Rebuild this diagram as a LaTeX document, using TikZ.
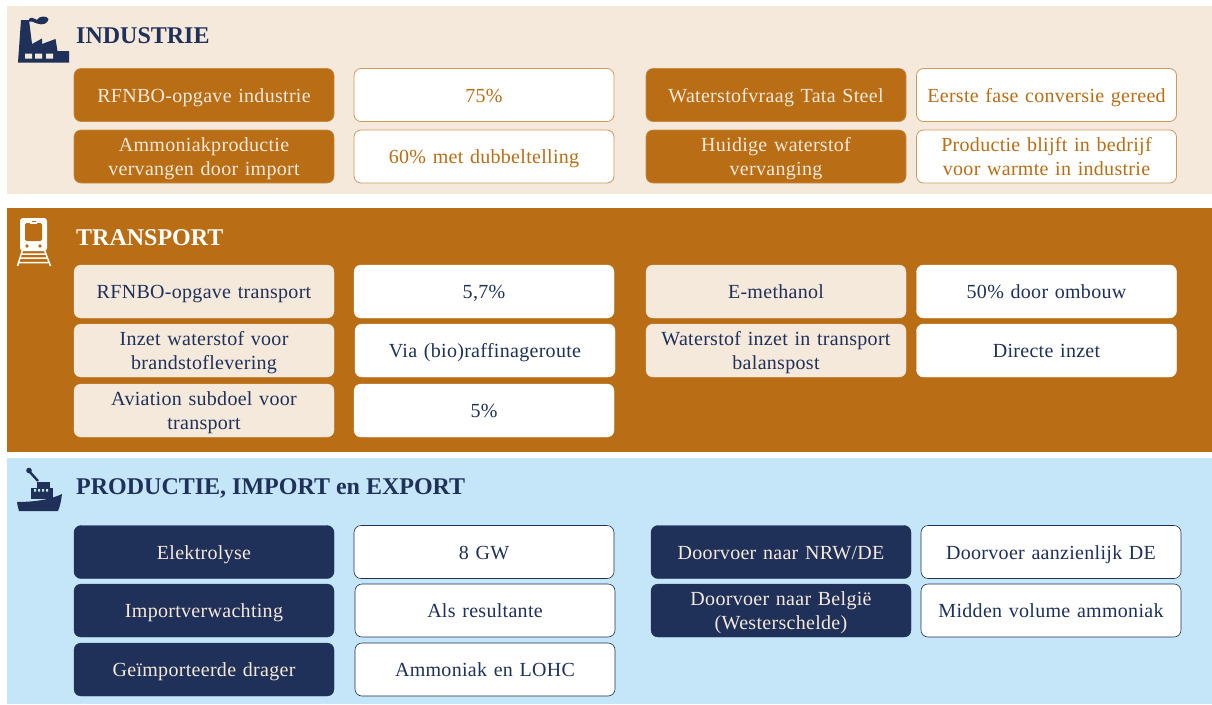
\documentclass[tikz,border=0pt]{standalone}
\usepackage{fontspec}
\setmainfont{Liberation Serif}[LetterSpace=1.5]
\newfontfamily\headfont{Liberation Serif}
\definecolor{cream}{HTML}{F5E9DB}
\definecolor{ochre}{HTML}{B96D15}
\definecolor{navy}{HTML}{1F3059}
\definecolor{sky}{HTML}{C5E6F8}
\tikzset{
 x=1pt,y=-1pt,
 cellbox/.style={rounded corners=7pt,minimum width=260pt,minimum height=53pt,align=center,inner sep=0pt,font=\fontsize{20}{24}\selectfont,text width=256pt,execute at begin node={\rule[-7.2pt]{0pt}{29pt}},execute at end node=\strut},
 indlab/.style={cellbox,fill=ochre,draw=ochre!80!white,line width=.6pt,text=cream},
 indval/.style={cellbox,fill=white,draw=ochre!70!white,line width=.8pt,text=ochre},
 trlab/.style={cellbox,fill=cream,draw=cream,text=navy},
 trval/.style={cellbox,fill=white,draw=white,text=navy},
 prlab/.style={cellbox,fill=navy,draw=navy,text=cream},
 prval/.style={cellbox,fill=white,draw=navy,line width=.6pt,text=navy},
 head/.style={anchor=west,inner sep=0pt,font=\fontsize{24}{30}\selectfont\headfont\bfseries},
}
\begin{document}
\begin{tikzpicture}
\useasboundingbox (0,0) rectangle (1212,704);
\fill[cream] (7,6) rectangle (1212,194);
\fill[ochre] (7,208) rectangle (1212,452);
\fill[sky] (7,458) rectangle (1212,704);

\node[head,text=navy] (h1) at (76,35.5) {INDUSTRIE};
\node[head,text=white] (h2) at (76,238) {TRANSPORT};
\node[head,text=navy] (h3) at (76,488.5) {PRODUCTIE, IMPORT en EXPORT};

% Industrie
\node[indlab] (a1) at (204,95) {RFNBO-opgave industrie};
\node[indval] (a2) at (484,95) {75\%};
\node[indlab] (a3) at (776,95) {Waterstofvraag Tata Steel};
\node[indval] (a4) at (1046.5,95) {Eerste fase conversie gereed};
\node[indlab] (a5) at (204,156.5) {Ammoniakproductie\\vervangen door import};
\node[indval] (a6) at (484,156.5) {60\% met dubbeltelling};
\node[indlab] (a7) at (776,156.5) {Huidige waterstof\\vervanging};
\node[indval] (a8) at (1046.5,156.5) {Productie blijft in bedrijf\\voor warmte in industrie};

% Transport
\node[trlab] (b1) at (204,291.5) {RFNBO-opgave transport};
\node[trval] (b2) at (484,291.5) {5,7\%};
\node[trlab] (b3) at (776,291.5) {E-methanol};
\node[trval] (b4) at (1046.5,291.5) {50\% door ombouw};
\node[trlab] (b5) at (204,350.5) {Inzet waterstof voor\\brandstoflevering};
\node[trval] (b6) at (485,350.5) {Via (bio)raffinageroute};
\node[trlab] (b7) at (776,350.5) {Waterstof inzet in transport\\balanspost};
\node[trval] (b8) at (1046.5,350.5) {Directe inzet};
\node[trlab] (b9) at (204,410.5) {Aviation subdoel voor\\transport};
\node[trval] (b10) at (484,410.5) {5\%};

% Productie
\node[prlab] (c1) at (204,552) {Elektrolyse};
\node[prval] (c2) at (484,552) {8 GW};
\node[prlab] (c3) at (781,552) {Doorvoer naar NRW/DE};
\node[prval] (c4) at (1051,552) {Doorvoer aanzienlijk DE};
\node[prlab] (c5) at (204,610.5) {Importverwachting};
\node[prval] (c6) at (485,610.5) {Als resultante};
\node[prlab] (c7) at (781,610.5) {Doorvoer naar België\\(Westerschelde)};
\node[prval] (c8) at (1051,610.5) {Midden volume ammoniak};
\node[prlab] (c9) at (204,669.5) {Geïmporteerde drager};
\node[prval] (c10) at (485,669.5) {Ammoniak en LOHC};

% factory icon
\fill[navy] (18,62.5) -- (21,20) -- (29,20) -- (32,44) -- (42,38.5) -- (42,44) -- (55.5,39) -- (57.5,51) -- (69,51) -- (69,62.5) -- cycle;
\fill[cream] (25,53.5) rectangle (32,58.5) (35,53.5) rectangle (42,58.5) (46,53.5) rectangle (53,58.5);
\fill[navy] (29,19) .. controls (31,16.5) and (34,18.5) .. (37,20) .. controls (39,15.5) and (47,15.5) .. (48.5,19) .. controls (48,24) and (42,25.5) .. (37,23.5) .. controls (34,22) and (31,21) .. (29,21.5) -- cycle;

% train icon
\fill[white,rounded corners=3pt] (20,218) rectangle (47,251);
\fill[ochre,rounded corners=2pt] (25,223) rectangle (42,241);
\fill[white] (30,220) rectangle (37,224);
\fill[ochre] (31.5,221) rectangle (35.5,222);
\fill[ochre] (27,246) circle (1.9pt) (40,246) circle (1.9pt);
\draw[white,line width=1.5pt] (22.5,250) -- (17.5,266) (44.5,250) -- (50.5,266)
  (22,254) -- (45,254) (20.5,258) -- (46.5,258) (19,262.5) -- (48,262.5);

% ship icon
\fill[navy] (17,502) .. controls (32,502) and (50,500) .. (62,494) .. controls (61,502) and (60,506) .. (58,511) -- (19,511) .. controls (18,508) and (17.5,505) .. (17,502) -- cycle;
\fill[navy] (31,488) rectangle (53,499);
\fill[navy] (37,482) rectangle (50,488);
\fill[sky] (34,489) rectangle (36,491.5) (38,489) rectangle (40,491.5) (42,489) rectangle (44,491.5) (46,489) rectangle (48,491.5);
\draw[navy,line width=2.4pt] (29,471) -- (38,481);
\fill[navy] (29,470.5) circle (2.8pt);
\end{tikzpicture}
\end{document}
